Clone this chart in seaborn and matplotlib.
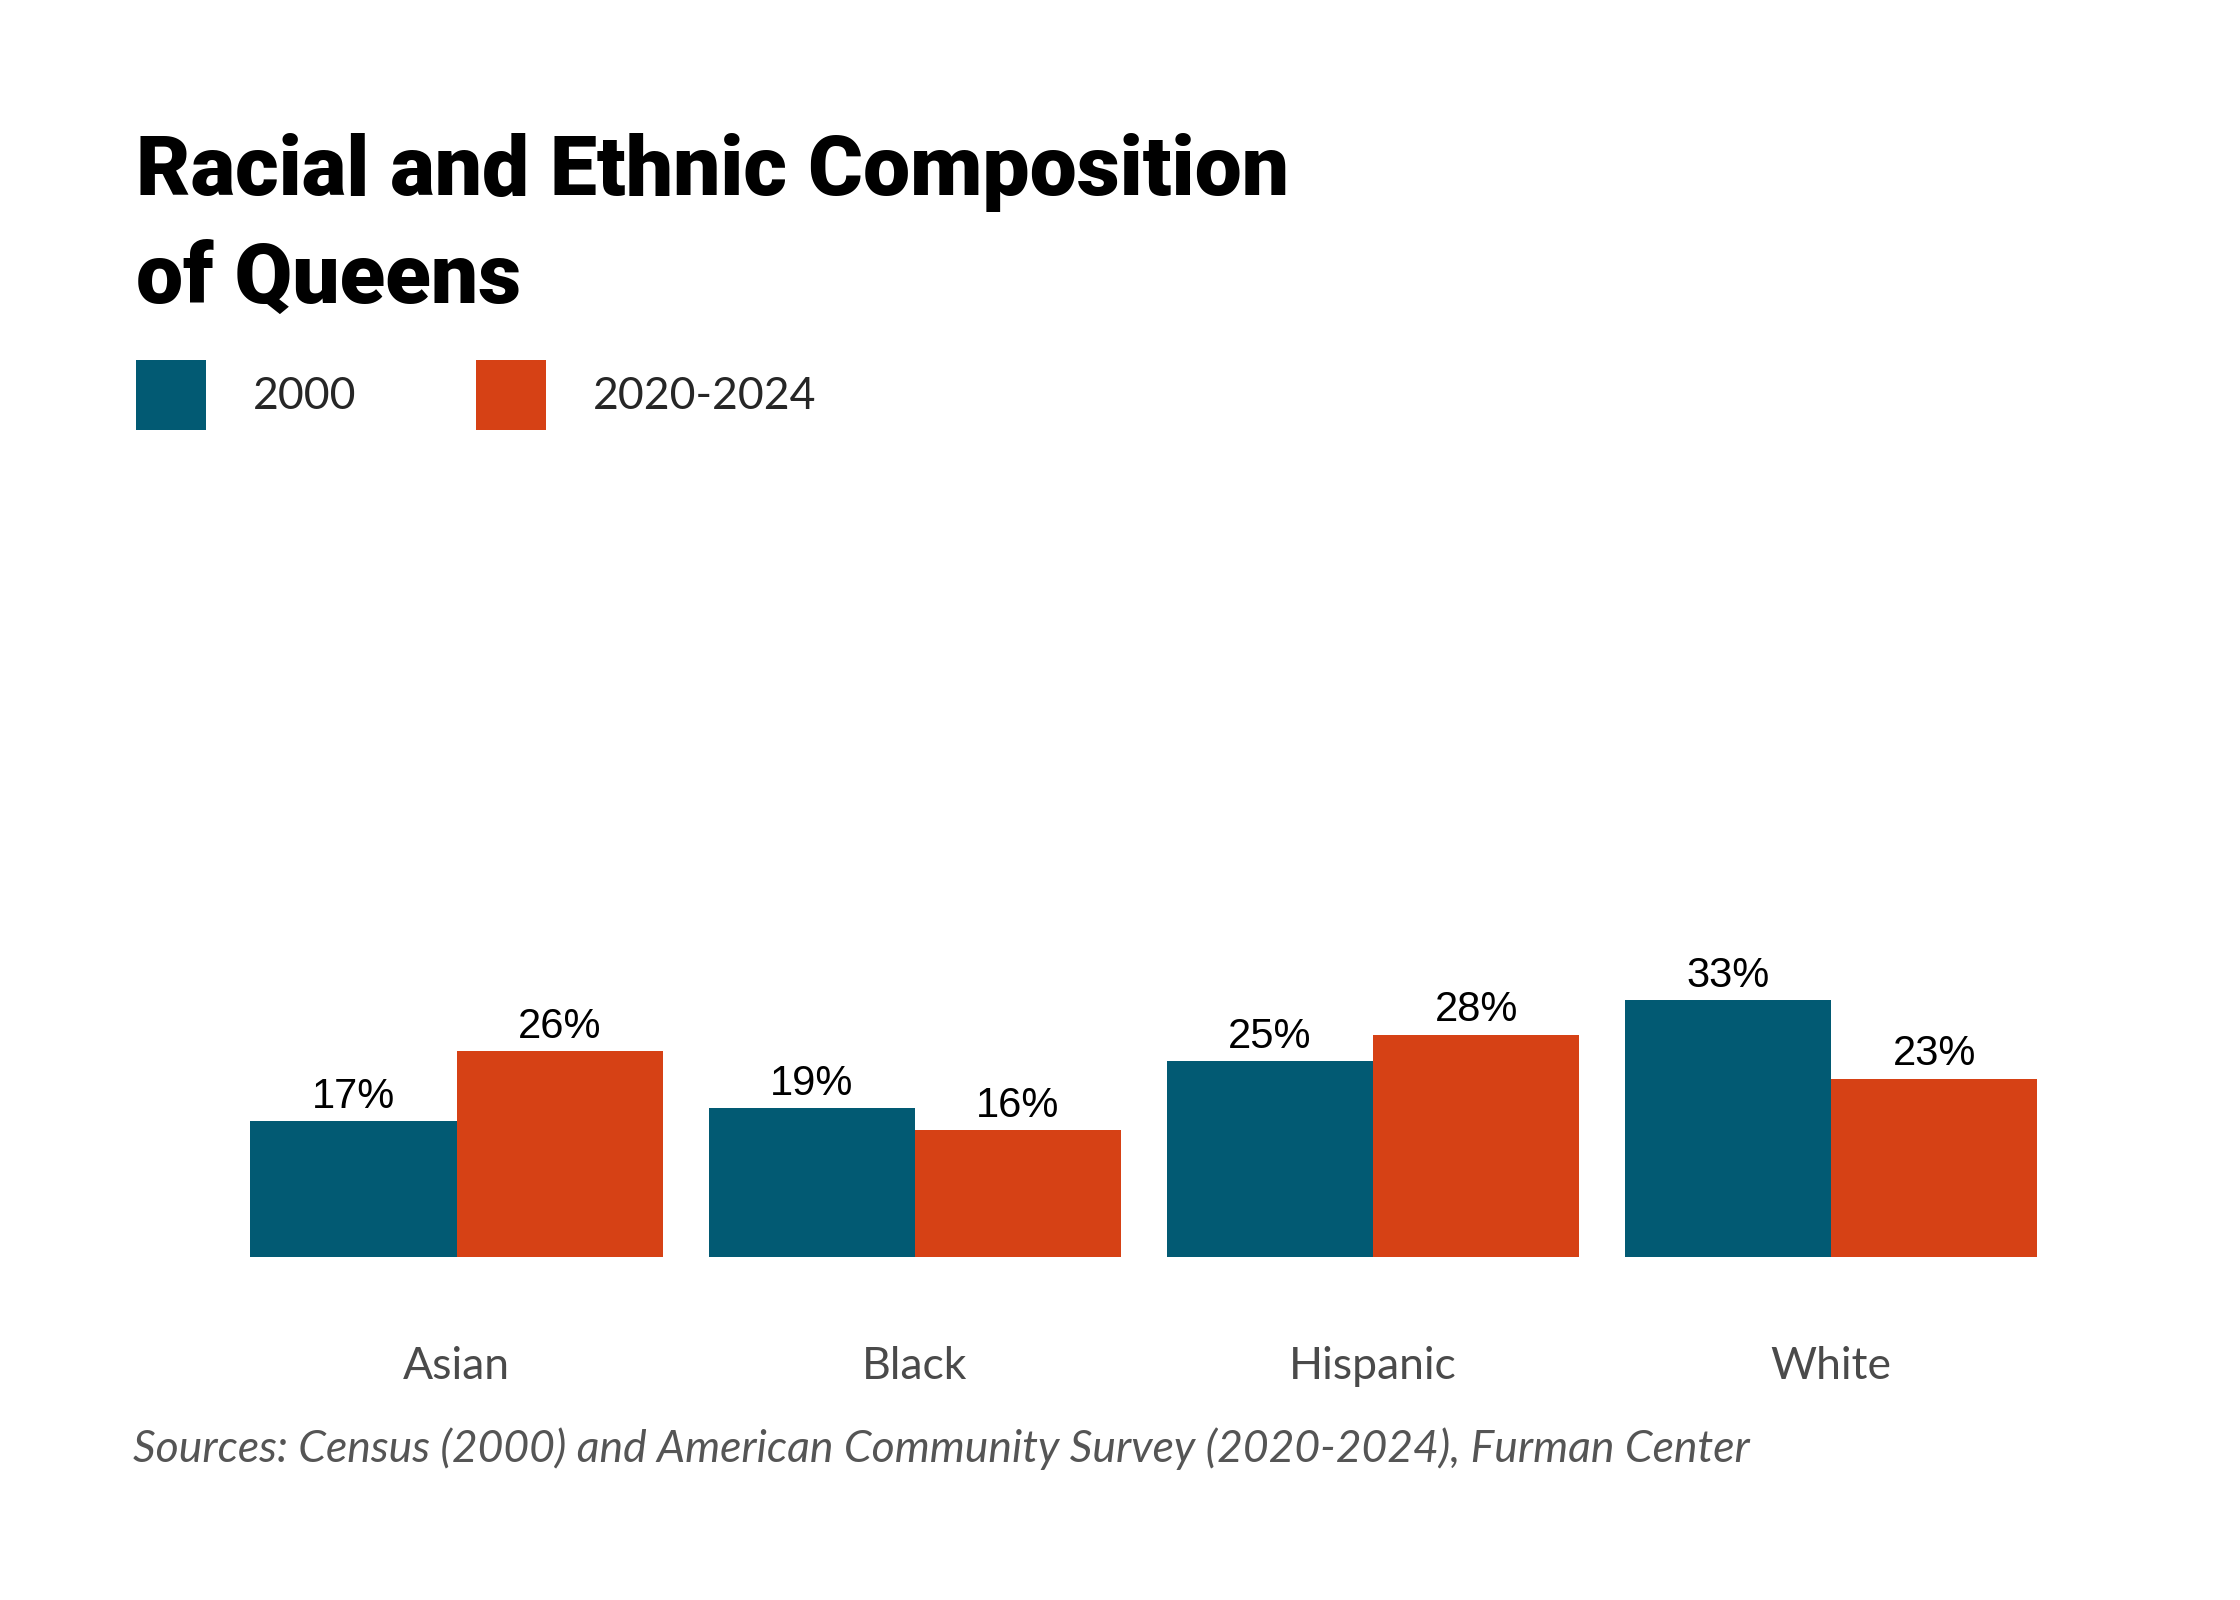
import matplotlib
matplotlib.use('Agg')
import matplotlib.pyplot as plt
import seaborn as sns
import pandas as pd

# values (share of population)
groups = ["Asian", "Black", "Hispanic", "White"]
years = ["2000", "2020-2024"]
share_2000 = [0.173, 0.190, 0.249, 0.327]
share_2024 = [0.262, 0.161, 0.283, 0.227]
colors = ["#025A73", "#D64115"]

df = pd.DataFrame({
    "group": groups * 2,
    "year": [years[0]] * 4 + [years[1]] * 4,
    "share": share_2000 + share_2024,
})

sns.set_style("white")
plt.rcParams['font.family'] = ['Lato', 'DejaVu Sans']

fig = plt.figure(figsize=(11.2, 8), dpi=200)
ax = fig.add_axes([0.1016, 0.2144, 0.8182, 0.491])

sns.barplot(data=df, x="group", y="share", hue="year", palette=colors,
            width=0.9, saturation=1, ax=ax, errorbar=None,
            linewidth=0, edgecolor='none')

ax.set_ylim(0, 1)
ax.set_xlim(-0.5, 3.5)
for c in ax.containers:
    labs = [f"{round(b.get_height() * 100):.0f}%" for b in c]
    ax.bar_label(c, labels=labs, padding=1.5, fontsize=15,
                 family='Liberation Sans', color='black')

sns.despine(ax=ax, left=True, bottom=True)
ax.set_yticks([])
ax.set_xlabel("")
ax.set_ylabel("")
ax.tick_params(axis='x', length=0, pad=32, labelsize=16, labelcolor='#4a4a4a')

sns.move_legend(ax, loc='upper left', bbox_to_anchor=(0.0607, 0.775),
                bbox_transform=fig.transFigure, ncol=2, frameon=False,
                title=None, fontsize=16, handlelength=1.575, handleheight=2.046,
                handletextpad=1.06, columnspacing=2.68, borderpad=0,
                borderaxespad=0)

title_font = ['Roboto', 'DejaVu Sans']
fig.text(0.0607, 0.878, "Racial and Ethnic Composition", fontsize=30.2,
         fontweight='black', family=title_font, va='baseline', ha='left',
         color='black')
fig.text(0.0607, 0.811, "of Queens", fontsize=30.2,
         fontweight='black', family=title_font, va='baseline', ha='left',
         color='black')
fig.text(0.0594, 0.086, "Sources: Census (2000) and American Community Survey (2020-2024), Furman Center",
         fontsize=16, style='italic', color='#555555', va='baseline', ha='left')

fig.savefig("out.png", dpi=200)
